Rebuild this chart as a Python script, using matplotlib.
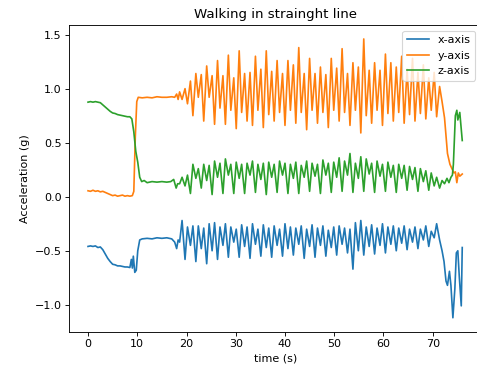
import numpy as np
import matplotlib
matplotlib.use("Agg")
import matplotlib.pyplot as plt

# time stamps (s) shared by all axes during the walking part
walk_t = [18.6, 19.1, 19.7, 20.2, 20.8, 21.3, 21.9, 22.4, 23.0, 23.5,
          24.1, 24.6, 25.2, 25.7, 26.3, 26.8, 27.4, 27.9, 28.5, 29.0,
          29.6, 30.1, 30.7, 31.2, 31.8, 32.3, 32.9, 33.4, 34.0, 34.5,
          35.1, 35.6, 36.2, 36.7, 37.3, 37.8, 38.4, 38.9, 39.5, 40.0,
          40.6, 41.1, 41.7, 42.2, 42.8, 43.3, 43.9, 44.4, 45.0, 45.5,
          46.1, 46.6, 47.2, 47.7, 48.3, 48.8, 49.4, 49.9, 50.5, 51.0,
          51.6, 52.1, 52.7, 53.2, 53.8, 54.3, 54.9, 55.4, 56.0, 56.5,
          57.1, 57.6, 58.2, 58.7, 59.3, 59.8, 60.4, 60.9, 61.5, 62.0,
          62.6, 63.1, 63.7, 64.2, 64.8, 65.3, 65.9, 66.4, 67.0, 67.5,
          68.1, 68.6, 69.2, 69.7, 70.3, 70.8, 71.4, 71.9]

# x-axis
x_pre_t = [0.0, 0.5, 1.0, 1.5, 2.0, 2.5, 3.0, 3.5, 4.0, 4.5, 5.0, 5.5, 6.0,
           6.5, 7.0, 7.5, 8.0, 8.5, 8.8, 9.0, 9.2, 9.5, 9.8, 10.1, 10.5,
           11.0, 12.0, 13.0, 14.0, 15.0, 16.0, 17.0, 17.6, 18.0, 18.3]
x_pre = [-0.46, -0.455, -0.46, -0.455, -0.47, -0.465, -0.49, -0.53, -0.57,
         -0.60, -0.625, -0.63, -0.64, -0.64, -0.645, -0.65, -0.65, -0.655,
         -0.58, -0.66, -0.55, -0.70, -0.68, -0.50, -0.40, -0.39, -0.385,
         -0.39, -0.38, -0.385, -0.38, -0.39, -0.42, -0.48, -0.40]
x_walk = [-0.42, -0.22, -0.58, -0.28, -0.45, -0.27, -0.60, -0.27, -0.48, -0.29,
          -0.62, -0.25, -0.50, -0.24, -0.58, -0.28, -0.45, -0.25, -0.56, -0.28,
          -0.42, -0.30, -0.56, -0.26, -0.46, -0.28, -0.57, -0.25, -0.44, -0.30,
          -0.55, -0.26, -0.47, -0.29, -0.56, -0.27, -0.45, -0.30, -0.55, -0.25,
          -0.48, -0.28, -0.54, -0.29, -0.44, -0.27, -0.57, -0.30, -0.46, -0.26,
          -0.56, -0.29, -0.45, -0.27, -0.55, -0.31, -0.47, -0.28, -0.54, -0.27,
          -0.44, -0.29, -0.52, -0.30, -0.67, -0.24, -0.50, -0.22, -0.54, -0.28,
          -0.46, -0.26, -0.53, -0.29, -0.45, -0.25, -0.52, -0.28, -0.44, -0.27,
          -0.50, -0.29, -0.43, -0.27, -0.49, -0.30, -0.42, -0.28, -0.48, -0.30,
          -0.40, -0.27, -0.46, -0.32, -0.38, -0.25, -0.40, -0.50]
x_post_t = [72.3, 72.7, 73.0, 73.4, 73.7, 74.1, 74.5, 74.8, 75.1, 75.4, 75.8, 76.0]
x_post = [-0.60, -0.78, -0.82, -0.69, -0.82, -1.12, -0.85, -0.52, -0.50, -0.74, -1.01, -0.47]

# y-axis
y_pre_t = [0.0, 0.5, 1.0, 1.5, 2.0, 2.5, 3.0, 3.5, 4.0, 4.5, 5.0, 5.5, 6.0,
           6.5, 7.0, 7.5, 8.0, 8.5, 9.0, 9.3, 9.6, 9.9, 10.2, 11.0, 12.0,
           13.0, 14.0, 15.0, 16.0, 17.0, 17.6, 18.0, 18.3]
y_pre = [0.055, 0.05, 0.06, 0.05, 0.055, 0.045, 0.05, 0.04, 0.03, 0.02, 0.01,
         0.015, 0.005, 0.01, 0.015, 0.005, 0.01, 0.005, 0.01, 0.05, 0.55, 0.88,
         0.92, 0.915, 0.92, 0.915, 0.925, 0.92, 0.92, 0.925, 0.92, 0.95, 0.90]
y_walk = [0.97, 0.90, 1.00, 0.86, 1.07, 0.75, 1.14, 0.92, 1.13, 0.70,
          1.21, 0.92, 1.12, 0.67, 1.26, 0.82, 1.12, 0.67, 1.31, 0.80,
          1.10, 0.63, 1.35, 0.78, 1.14, 0.70, 1.15, 0.66, 1.30, 0.80,
          1.18, 0.64, 1.35, 0.76, 1.16, 0.70, 1.26, 0.78, 1.14, 0.66,
          1.26, 0.80, 1.22, 0.68, 1.38, 0.78, 1.14, 0.62, 1.28, 0.80,
          1.14, 0.68, 1.20, 0.78, 1.13, 0.64, 1.28, 0.80, 1.19, 0.70,
          1.37, 0.78, 1.14, 0.66, 1.24, 0.80, 1.20, 0.59, 1.46, 0.75,
          1.17, 0.68, 1.24, 0.80, 1.17, 0.66, 1.32, 0.77, 1.24, 0.70,
          1.20, 0.78, 1.30, 0.68, 1.18, 0.76, 1.28, 0.70, 1.15, 0.77,
          1.22, 0.72, 1.10, 0.80, 1.15, 0.74, 1.02, 0.88]
y_post_t = [72.4, 73.0, 73.5, 73.9, 74.3, 74.6, 74.9, 75.2, 75.5, 76.0]
y_post = [0.73, 0.40, 0.30, 0.26, 0.22, 0.23, 0.13, 0.22, 0.19, 0.21]

# z-axis
z_pre_t = [0.0, 0.5, 1.0, 1.5, 2.0, 2.5, 3.0, 3.5, 4.0, 4.5, 5.0, 5.5, 6.0,
           6.5, 7.0, 7.5, 8.0, 8.5, 8.9, 9.3, 9.7, 10.1, 10.5, 10.9, 11.4,
           12.0, 13.0, 14.0, 15.0, 16.0, 16.8, 17.4, 17.9, 18.2]
z_pre = [0.875, 0.88, 0.875, 0.88, 0.875, 0.87, 0.85, 0.83, 0.81, 0.79, 0.775,
         0.77, 0.76, 0.755, 0.75, 0.745, 0.74, 0.74, 0.72, 0.60, 0.42, 0.32,
         0.18, 0.14, 0.15, 0.13, 0.14, 0.135, 0.14, 0.135, 0.14, 0.16, 0.08, 0.12]
z_walk = [0.12, 0.18, 0.10, 0.20, 0.03, 0.30, 0.17, 0.26, 0.08, 0.30,
          0.15, 0.29, 0.02, 0.33, 0.18, 0.31, 0.03, 0.35, 0.20, 0.30,
          0.03, 0.32, 0.17, 0.30, 0.03, 0.31, 0.20, 0.33, 0.04, 0.30,
          0.16, 0.31, 0.02, 0.32, 0.18, 0.30, 0.04, 0.33, 0.20, 0.31,
          0.03, 0.30, 0.17, 0.32, 0.03, 0.29, 0.18, 0.33, 0.05, 0.31,
          0.19, 0.30, 0.03, 0.34, 0.20, 0.31, 0.04, 0.32, 0.18, 0.36,
          0.05, 0.33, 0.20, 0.40, 0.04, 0.31, 0.17, 0.37, 0.05, 0.35,
          0.21, 0.31, 0.04, 0.33, 0.19, 0.30, 0.05, 0.32, 0.18, 0.29,
          0.04, 0.30, 0.17, 0.29, 0.06, 0.28, 0.16, 0.27, 0.05, 0.26,
          0.14, 0.24, 0.06, 0.22, 0.10, 0.18, 0.08, 0.15]
z_post_t = [72.4, 72.9, 73.3, 73.7, 74.0, 74.2, 74.6, 74.9, 75.1, 75.5, 76.0]
z_post = [0.12, 0.17, 0.13, 0.18, 0.20, 0.30, 0.75, 0.80, 0.71, 0.78, 0.52]

t_x = x_pre_t + walk_t + x_post_t
t_y = y_pre_t + walk_t + y_post_t
t_z = z_pre_t + walk_t + z_post_t
acc_x = x_pre + x_walk + x_post
acc_y = y_pre + y_walk + y_post
acc_z = z_pre + z_walk + z_post

fig = plt.figure(figsize=(477 / 80, 373 / 80), dpi=80)
ax = fig.add_axes([0.1453, 0.1107, 0.8630, 0.8223])

ax.plot(t_x, acc_x, label='x-axis')
ax.plot(t_y, acc_y, label='y-axis')
ax.plot(t_z, acc_z, label='z-axis')

ax.set_title('Walking in strainght line')
ax.set_xlabel('time (s)')
ax.set_ylabel('Acceleration (g)')
ax.legend(loc='upper right')

fig.savefig('out.png', dpi=80)
